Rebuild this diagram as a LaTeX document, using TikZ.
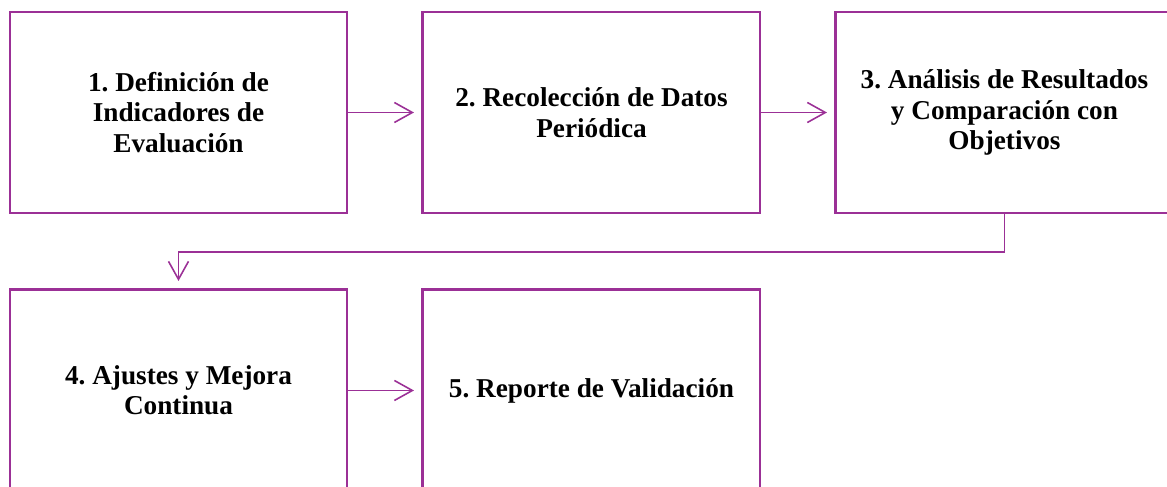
\documentclass[tikz,border=0pt]{standalone}
\usepackage{fontspec}
\setmainfont{Liberation Serif}
\usetikzlibrary{arrows.meta, positioning}
\definecolor{stagepurple}{RGB}{155,48,150}
\tikzset{>={Straight Barb[length=3.6mm,width=4mm]}}
\tikzset{stagebox/.style={draw=stagepurple, line width=1.7pt, minimum width=6.74cm,
    minimum height=4.02cm, align=center, inner sep=0pt,
    font=\fontsize{15.5}{17.3}\selectfont\bfseries\frenchspacing}}

\begin{document}
\begin{tikzpicture}[->, stagepurple, line width=0.9pt]
      \path[use as bounding box, clip] (0,0) rectangle (23.34,9.72);
      \node[stagebox, text=black] (definition) at (3.57, 7.47) {1. Definición de \\ Indicadores de \\ Evaluación};
      \node[stagebox, text=black, right=1.46cm of definition] (collection) {2. Recolección de Datos \\ Periódica};
      \node[stagebox, text=black, right=1.46cm of collection] (analysis) {3. Análisis de Resultados \\ y Comparación con \\ Objetivos};
      \node[stagebox, text=black, below=1.48cm of definition] (adjustments) {4. Ajustes y Mejora \\ Continua};
      \node[stagebox, text=black, right=1.46cm of adjustments] (report) {5. Reporte de Validación};
      \draw[shorten >=1.5mm] (definition) -- (collection);
      \draw[shorten >=1.5mm] (collection) -- (analysis);
      \draw[shorten >=1.5mm] (analysis.south) -- ++(0,-0.75) -| (adjustments.north);
      \draw[shorten >=1.5mm] (adjustments) -- (report);
    \end{tikzpicture}
\end{document}
